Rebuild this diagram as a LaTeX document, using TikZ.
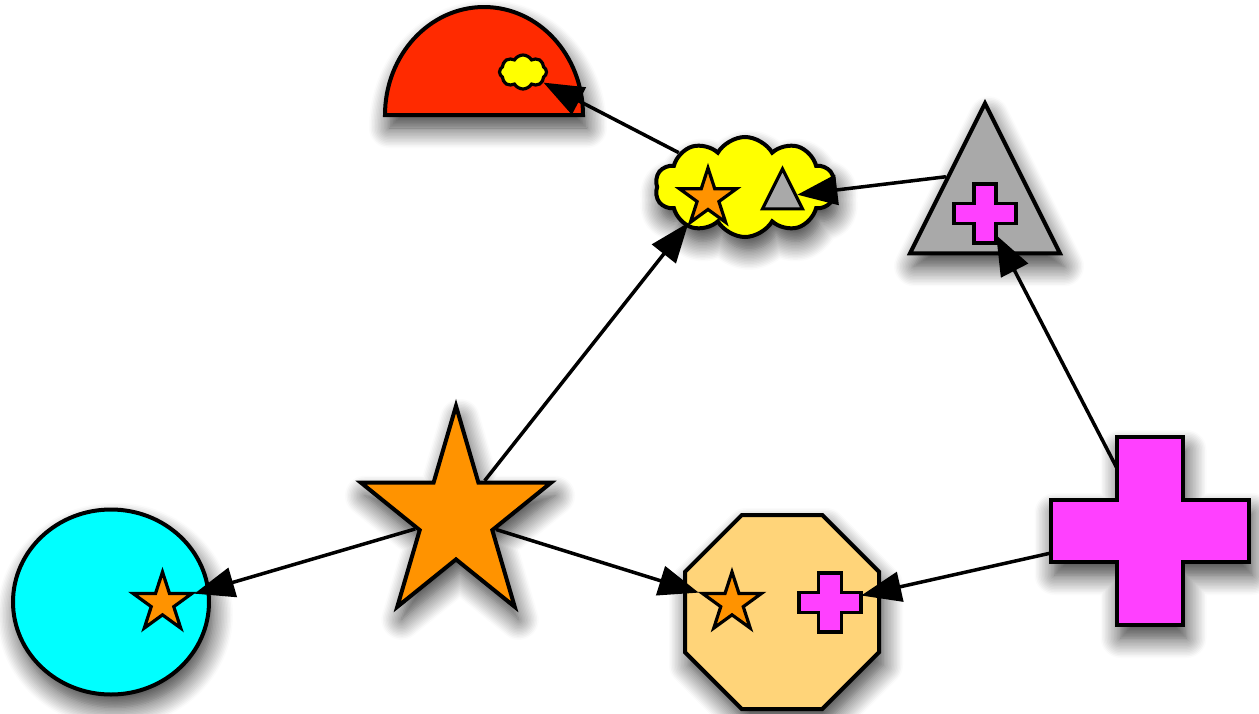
\documentclass[tikz,border=0pt]{standalone}
\usetikzlibrary{shapes.geometric,shapes.symbols,arrows.meta,shadows.blur}

\definecolor{semired}{HTML}{FF2A00}
\definecolor{puffyellow}{HTML}{FFFF00}
\definecolor{trigray}{HTML}{A9A9A9}
\definecolor{plusmagenta}{HTML}{FF40FF}
\definecolor{starorange}{HTML}{FF9300}
\definecolor{octpeach}{HTML}{FFD479}
\definecolor{circcyan}{HTML}{00FFFF}

% plus sign outline: options, centre x, centre y, half width, half height,
% half thickness of the vertical bar, half thickness of the horizontal bar
\newcommand\plusglyph[7]{%
  \path[#1] (#2-#6,#3-#5) -- (#2+#6,#3-#5) -- (#2+#6,#3-#7) -- (#2+#4,#3-#7)
    -- (#2+#4,#3+#7) -- (#2+#6,#3+#7) -- (#2+#6,#3+#5) -- (#2-#6,#3+#5)
    -- (#2-#6,#3+#7) -- (#2-#4,#3+#7) -- (#2-#4,#3-#7) -- (#2-#6,#3-#7) -- cycle;}

\tikzset{
  bigshape/.style={draw=black, line width=4pt, inner sep=0pt},
  smallshape/.style={draw=black, line width=3.2pt, inner sep=0pt},
  softshadow/.style={blur shadow={shadow xshift=4pt, shadow yshift=-13pt,
      shadow blur radius=20pt, shadow blur steps=14, shadow opacity=80}},
  starry/.style={star, star points=5, star point ratio=2.618, fill=starorange},
  anchorbox/.style={draw=none, fill=none, inner sep=0pt, rectangle},
  edge/.style={draw=black, line width=3.5pt,
      -{Triangle[length=40pt, width=30pt, fill=black]}},
}

\begin{document}
\begin{tikzpicture}[x=1pt, y=-1pt]
\useasboundingbox (0,0) rectangle (1259,713);

% ---- large shapes ----
\path[bigshape, softshadow, fill=semired]
  (385,115) arc[start angle=180, end angle=0, x radius=99pt, y radius=108pt] -- cycle;

\node[bigshape, softshadow, cloud, cloud puffs=10, cloud puff arc=120,
      cloud ignores aspect, minimum width=180pt, minimum height=100pt,
      fill=puffyellow] (cloud) at (745,187) {};

\node[bigshape, softshadow, isosceles triangle, isosceles triangle stretches,
      shape border rotate=90, minimum width=150pt, minimum height=150pt,
      fill=trigray] (tri) at (985,207) {};

\node[bigshape, softshadow, ellipse, minimum width=196pt, minimum height=185pt,
      fill=circcyan] (circ) at (111,602) {};

\begin{scope}[shift={(456,517)}, xscale=0.9]
  \node[bigshape, softshadow, starry, minimum size=222pt, transform shape]
    (bigstar) at (0,0) {};
\end{scope}

\node[bigshape, softshadow, regular polygon, regular polygon sides=8,
      minimum size=210pt, fill=octpeach] (oct) at (782,612) {};

\plusglyph{bigshape, softshadow, fill=plusmagenta}{1149.5}{531}{99}{94}{33}{31}
\node[anchorbox, minimum width=66pt, minimum height=188pt] (plusv) at (1149.5,531) {};
\node[anchorbox, minimum width=198pt, minimum height=62pt] (plush) at (1149.5,531) {};

% ---- small shapes inside the large ones ----
\node[smallshape, cloud, cloud puffs=8, cloud puff arc=120, cloud ignores aspect,
      minimum width=47pt, minimum height=34pt, fill=puffyellow] (semicloud) at (523,72) {};

\node[smallshape, starry, minimum size=60pt] (cloudstar) at (708,198) {};
\node[smallshape, isosceles triangle, isosceles triangle stretches,
      shape border rotate=90, minimum width=40pt, minimum height=40pt,
      fill=trigray] (cloudtri) at (782.5,196.5) {};

\plusglyph{smallshape, fill=plusmagenta}{985}{213.5}{31}{29.5}{11}{10}
\node[anchorbox, minimum width=22pt, minimum height=59pt] (triplusv) at (985,213.5) {};

\node[smallshape, starry, minimum size=62pt] (octstar) at (732,603) {};
\plusglyph{smallshape, fill=plusmagenta}{830}{602.5}{31}{29.5}{11.5}{10}
\node[anchorbox, minimum width=62pt, minimum height=20pt] (octplush) at (830,602.5) {};

\node[smallshape, starry, minimum size=62pt] (circstar) at (162.5,603) {};

% ---- connectors ----
\begin{scope}[opacity=1, fill opacity=1, draw opacity=1]
\draw[edge] (bigstar) -- (circstar);
\draw[edge] (bigstar) -- (octstar);
\draw[edge] (bigstar) -- (cloudstar);
\draw[edge] (plush) -- (octplush);
\draw[edge] (plusv) -- (triplusv);
\draw[edge] (tri.left side) -- (cloudtri);
\draw[edge] (cloud) -- (semicloud);
\end{scope}
\end{tikzpicture}
\end{document}
